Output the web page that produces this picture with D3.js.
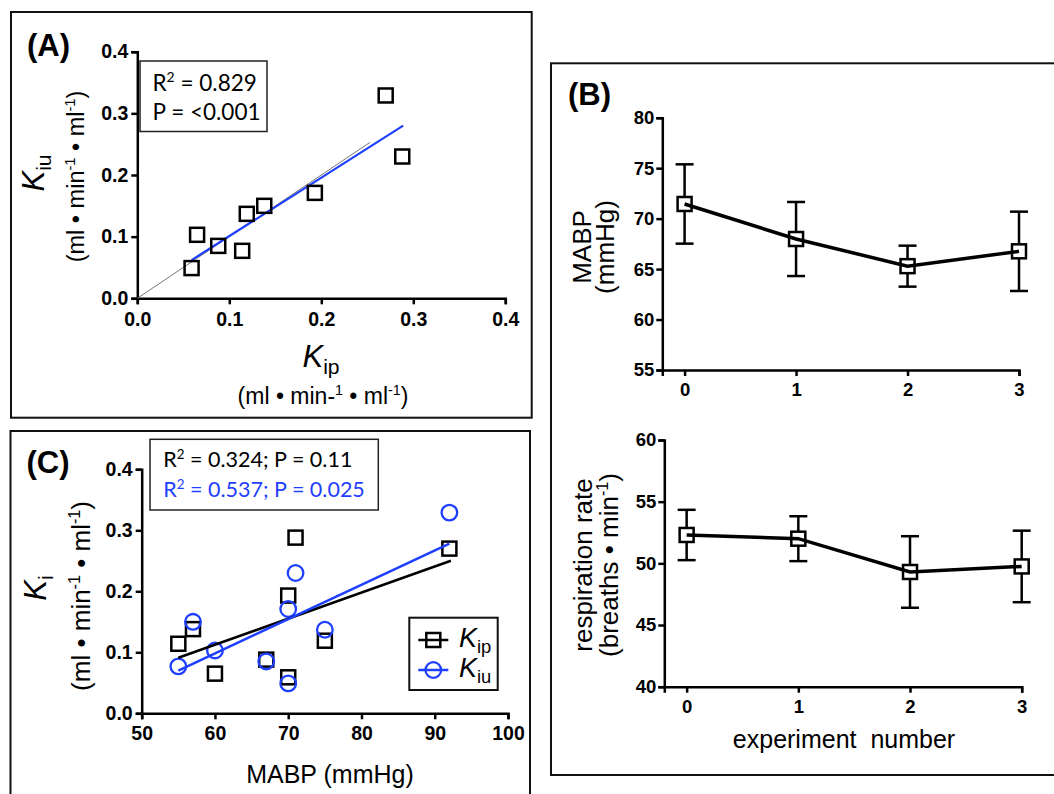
<!DOCTYPE html>
<html><head><meta charset="utf-8">
<script src="https://cdn.jsdelivr.net/npm/d3@7"></script>
<style>body{margin:0;background:#fff}</style>
</head><body>
<script>
// ---------- DATA ----------
const mabp = [55, 57, 60, 67, 70, 70, 71, 75, 92];
const kip  = [0.114, 0.138, 0.065, 0.088, 0.193, 0.059, 0.288, 0.119, 0.270];
const kiu  = [0.077, 0.150, 0.103, 0.085, 0.171, 0.049, 0.230, 0.137, 0.329];
const fitAx = [0.059, 0.289], fitAy = [0.062, 0.280];
const identX = [0, 0.253];
const fitCipX = [55, 92.2], fitCipY = [0.091, 0.250];
const fitCiuX = [55, 92], fitCiuY = [0.070, 0.278];
const kTicks = [0, 0.1, 0.2, 0.3, 0.4];
const mabpTicks = [50, 60, 70, 80, 90, 100];
const expNum = [0, 1, 2, 3];
const mabpMean = [71.45, 67.98, 65.29, 66.76];
const mabpErr  = [3.93, 3.67, 2.03, 3.93];
const respMean = [52.3, 52.0, 49.3, 49.75];
const respErr  = [2.04, 1.82, 2.9, 2.9];
const bTopTicks = [55, 60, 65, 70, 75, 80];
const bBotTicks = [40, 45, 50, 55, 60];

const BLUE = "#1f3fff";
const SANS = "'Liberation Sans', Arial, sans-serif";
const CAL = "Lato, 'Open Sans', sans-serif";

const svg = d3.select("body").append("svg").attr("width", 1054).attr("height", 794);

// rich text helper
function rich(g, x, y, parts, fs, opts = {}) {
  const t = g.append("text").attr("x", x).attr("y", y)
    .attr("font-family", opts.family || SANS).attr("font-size", fs)
    .attr("fill", opts.fill || "#000")
    .attr("text-anchor", opts.anchor || "start");
  if (opts.rotate) t.attr("transform", `rotate(-90,${x},${y})`);
  let shift = 0;
  parts.forEach(p => {
    const ts = t.append("tspan").text(p.t);
    let target = 0, size = fs;
    if (p.sup) { target = -fs * 0.38; size = fs * 0.62; }
    if (p.sub) { target = fs * 0.22; size = fs * 0.68; }
    ts.attr("dy", target - shift).attr("font-size", size);
    if (p.italic) ts.attr("font-style", "italic");
    shift = target;
  });
  return t;
}

function styleAxis(g, fs) {
  g.attr("font-family", SANS).attr("font-size", fs);
  g.select(".domain").attr("stroke-width", 2.5).attr("stroke", "#000");
  g.selectAll(".tick line").attr("stroke-width", 2.5).attr("stroke", "#000");
  g.selectAll(".tick text").attr("font-weight", "bold").attr("fill", "#000");
}

function frame(x, y, w, h) {
  svg.append("rect").attr("x", x).attr("y", y).attr("width", w).attr("height", h)
    .attr("fill", "none").attr("stroke", "#111").attr("stroke-width", 2);
}

function panelLabel(txt, x, y) {
  svg.append("text").attr("x", x).attr("y", y).attr("font-family", SANS)
    .attr("font-weight", "bold").attr("font-size", 31).text(txt);
}

const unitParts = [{t:"(ml • min"},{t:"-1",sup:true},{t:" • ml"},{t:"-1",sup:true},{t:")"}];

// ================= PANEL A =================
frame(11, 12, 520.7, 405.7);
panelLabel("(A)", 27, 56);
{
  const x = d3.scaleLinear().domain([0, 0.4]).range([137.3, 505.3]);
  const y = d3.scaleLinear().domain([0, 0.4]).range([298.3, 51.7]);
  const g = svg.append("g");
  const ax = g.append("g").attr("transform", `translate(0,${y(0)})`)
    .call(d3.axisBottom(x).tickValues(kTicks).tickFormat(d3.format(".1f")).tickSizeOuter(0).tickSize(6).tickPadding(8));
  styleAxis(ax, 19.5);
  const ay = g.append("g").attr("transform", `translate(${x(0)},0)`)
    .call(d3.axisLeft(y).tickValues(kTicks).tickFormat(d3.format(".1f")).tickSizeOuter(0).tickSize(6).tickPadding(3));
  styleAxis(ay, 19.5);
  // identity line
  g.append("line").attr("x1", x(identX[0])).attr("y1", y(identX[0]))
    .attr("x2", x(identX[1])).attr("y2", y(identX[1]))
    .attr("stroke", "#777").attr("stroke-width", 1);
  // regression
  g.append("line").attr("x1", x(fitAx[0])).attr("y1", y(fitAy[0]))
    .attr("x2", x(fitAx[1])).attr("y2", y(fitAy[1]))
    .attr("stroke", BLUE).attr("stroke-width", 2.2);
  // points
  g.selectAll("rect.pt").data(kip.map((v, i) => [v, kiu[i]])).join("rect")
    .attr("x", d => x(d[0]) - 7).attr("y", d => y(d[1]) - 7)
    .attr("width", 14).attr("height", 14)
    .attr("fill", "none").attr("stroke", "#000").attr("stroke-width", 2.5);
  // stats box
  g.append("rect").attr("x", 140).attr("y", 61).attr("width", 127).attr("height", 70.5)
    .attr("fill", "#fff").attr("stroke", "#222").attr("stroke-width", 1.5);
  rich(g, 152.5, 91, [{t:"R"},{t:"2",sup:true},{t:" = 0.829"}], 22.5, {family: CAL});
  rich(g, 152.5, 119.5, [{t:"P = <0.001"}], 22.5, {family: CAL});
  // y title
  rich(g, 44, 173, [{t:"K",italic:true},{t:"iu",sub:true}], 31, {rotate:true, anchor:"middle"});
  rich(g, 84, 176.5, unitParts, 23.5, {rotate:true, anchor:"middle"});
  // x title
  rich(g, 321, 367, [{t:"K",italic:true},{t:"ip",sub:true}], 31, {anchor:"middle"});
  rich(g, 323, 404, [{t:"(ml • min-"},{t:"1",sup:true},{t:" • ml"},{t:"-1",sup:true},{t:")"}], 23, {anchor:"middle"});
}

// ================= PANEL C =================
frame(10.5, 431, 519.5, 400);
panelLabel("(C)", 26.5, 473);
{
  const x = d3.scaleLinear().domain([50, 100]).range([141.7, 508]);
  const y = d3.scaleLinear().domain([0, 0.4]).range([713.3, 469.3]);
  const g = svg.append("g");
  const ax = g.append("g").attr("transform", `translate(0,${y(0)})`)
    .call(d3.axisBottom(x).tickValues(mabpTicks).tickFormat(d3.format("d")).tickSizeOuter(0).tickSize(6).tickPadding(7));
  styleAxis(ax, 19.5);
  const ay = g.append("g").attr("transform", `translate(${x(50)},0)`)
    .call(d3.axisLeft(y).tickValues(kTicks).tickFormat(d3.format(".1f")).tickSizeOuter(0).tickSize(6).tickPadding(3));
  styleAxis(ay, 19.5);
  g.selectAll("rect.sq").data(mabp.map((v, i) => [v, kip[i]])).join("rect")
    .attr("x", d => x(d[0]) - 7).attr("y", d => y(d[1]) - 7)
    .attr("width", 14).attr("height", 14)
    .attr("fill", "none").attr("stroke", "#000").attr("stroke-width", 2.5);
  g.selectAll("circle.ci").data(mabp.map((v, i) => [v, kiu[i]])).join("circle")
    .attr("cx", d => x(d[0])).attr("cy", d => y(d[1])).attr("r", 7.8)
    .attr("fill", "none").attr("stroke", BLUE).attr("stroke-width", 2.3);
  g.append("line").attr("x1", x(fitCipX[0])).attr("y1", y(fitCipY[0]))
    .attr("x2", x(fitCipX[1])).attr("y2", y(fitCipY[1]))
    .attr("stroke", "#000").attr("stroke-width", 2.5);
  g.append("line").attr("x1", x(fitCiuX[0])).attr("y1", y(fitCiuY[0]))
    .attr("x2", x(fitCiuX[1])).attr("y2", y(fitCiuY[1]))
    .attr("stroke", BLUE).attr("stroke-width", 2.5);
  // stats box
  g.append("rect").attr("x", 150).attr("y", 439.3).attr("width", 228.3).attr("height", 70.7)
    .attr("fill", "#fff").attr("stroke", "#222").attr("stroke-width", 1.5);
  rich(g, 163.3, 467.3, [{t:"R"},{t:"2",sup:true},{t:" = 0.324; P = 0.11"}], 21.5, {family: CAL});
  rich(g, 163.3, 496.7, [{t:"R"},{t:"2",sup:true},{t:" = 0.537; P = 0.025"}], 21.5, {family: CAL, fill: BLUE});
  // legend
  g.append("rect").attr("x", 409.3).attr("y", 617.7).attr("width", 88.4).attr("height", 72.3)
    .attr("fill", "#fff").attr("stroke", "#111").attr("stroke-width", 2);
  g.append("line").attr("x1", 418.3).attr("x2", 448.3).attr("y1", 640).attr("y2", 640)
    .attr("stroke", "#000").attr("stroke-width", 2.5);
  g.append("rect").attr("x", 433.3 - 7).attr("y", 640 - 7).attr("width", 14).attr("height", 14)
    .attr("fill", "none").attr("stroke", "#000").attr("stroke-width", 2.5);
  g.append("line").attr("x1", 418.3).attr("x2", 448.3).attr("y1", 670).attr("y2", 670)
    .attr("stroke", BLUE).attr("stroke-width", 2.5);
  g.append("circle").attr("cx", 433.3).attr("cy", 670).attr("r", 7.8)
    .attr("fill", "none").attr("stroke", BLUE).attr("stroke-width", 2.3);
  rich(g, 459, 647, [{t:"K",italic:true},{t:"ip",sub:true}], 27);
  rich(g, 459, 677, [{t:"K",italic:true},{t:"iu",sub:true}], 27);
  // y title
  rich(g, 46, 588, [{t:"K",italic:true},{t:"i",sub:true}], 31, {rotate:true, anchor:"middle"});
  rich(g, 90, 596, unitParts, 26, {rotate:true, anchor:"middle"});
  // x title
  rich(g, 330, 783, [{t:"MABP (mmHg)"}], 25, {anchor:"middle"});
}

// ================= PANEL B =================
frame(551, 63.3, 520, 711.7);
panelLabel("(B)", 568, 105);
function bPanel(xr, yr, dom, ticks, mean, err, yTitle1, yTitle2parts, t1x, t2x, ty) {
  const x = d3.scaleLinear().domain([-0.2, 3]).range(xr);
  const y = d3.scaleLinear().domain(dom).range(yr);
  const g = svg.append("g");
  const ax = g.append("g").attr("transform", `translate(0,${yr[0]})`)
    .call(d3.axisBottom(x).tickValues(expNum).tickFormat(d3.format("d")).tickSizeOuter(0).tickSize(6).tickPadding(7));
  styleAxis(ax, 18.5);
  const ay = g.append("g").attr("transform", `translate(${xr[0]},0)`)
    .call(d3.axisLeft(y).tickValues(ticks).tickFormat(d3.format("d")).tickSizeOuter(0).tickSize(6).tickPadding(2));
  styleAxis(ay, 18.5);
  const data = expNum.map((e, i) => ({e, m: mean[i], s: err[i]}));
  // error bars
  g.selectAll("line.eb").data(data).join("line")
    .attr("x1", d => x(d.e)).attr("x2", d => x(d.e))
    .attr("y1", d => y(d.m + d.s)).attr("y2", d => y(d.m - d.s))
    .attr("stroke", "#000").attr("stroke-width", 2.5);
  g.selectAll("line.capT").data(data).join("line")
    .attr("x1", d => x(d.e) - 9).attr("x2", d => x(d.e) + 9)
    .attr("y1", d => y(d.m + d.s)).attr("y2", d => y(d.m + d.s))
    .attr("stroke", "#000").attr("stroke-width", 2.5);
  g.selectAll("line.capB").data(data).join("line")
    .attr("x1", d => x(d.e) - 9).attr("x2", d => x(d.e) + 9)
    .attr("y1", d => y(d.m - d.s)).attr("y2", d => y(d.m - d.s))
    .attr("stroke", "#000").attr("stroke-width", 2.5);
  g.selectAll("rect.sq").data(data).join("rect")
    .attr("x", d => x(d.e) - 7).attr("y", d => y(d.m) - 7).attr("width", 14).attr("height", 14)
    .attr("fill", "#fff").attr("stroke", "#000").attr("stroke-width", 2.5);
  g.append("path").datum(data)
    .attr("d", d3.line().x(d => x(d.e)).y(d => y(d.m)))
    .attr("fill", "none").attr("stroke", "#000").attr("stroke-width", 3.5);
  rich(g, t1x, ty, [{t:yTitle1}], 26, {rotate:true, anchor:"middle"});
  rich(g, t2x, ty, yTitle2parts, 26, {rotate:true, anchor:"middle"});
}
bPanel([662.3, 1019], [370, 117.7], [55, 80], bTopTicks, mabpMean, mabpErr,
  "MABP", [{t:"(mmHg)"}], 591, 614, 247);
bPanel([664.3, 1021.7], [686.7, 440], [40, 60], bBotTicks, respMean, respErr,
  "respiration rate", [{t:"(breaths • min"},{t:"-1",sup:true},{t:")"}], 592, 618, 565);
svg.append("text").attr("x", 844).attr("y", 748).attr("text-anchor", "middle")
  .attr("font-family", SANS).attr("font-size", 25).attr("xml:space", "preserve")
  .style("white-space", "pre").text("experiment  number");
</script>
</body></html>
